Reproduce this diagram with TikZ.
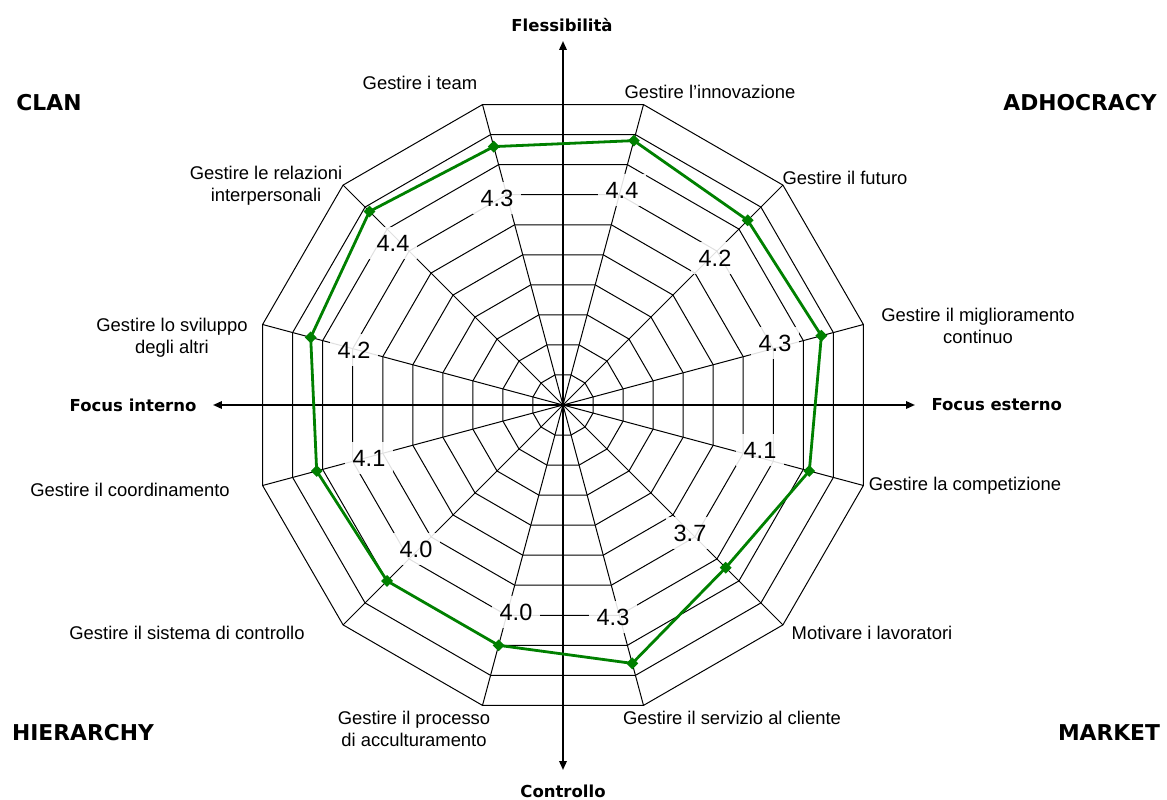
\documentclass[tikz,border=0pt]{standalone}
\usepackage{fontspec}
\setmainfont{Liberation Sans}
\newfontfamily\headfont{DejaVu Sans}
\usepackage{xcolor}
\usepackage{tikz}
\usetikzlibrary{arrows.meta}
\usetikzlibrary{shapes.geometric}
\definecolor{seriesgreen}{RGB}{0,128,0}

\begin{document}
\begin{tikzpicture}[x=1pt,y=1pt]
\tikzstyle{every node}=[font=\fontsize{18.4}{22}\selectfont]
\tikzstyle{grid}=[line width=1pt, black]
\tikzstyle{axis}=[line width=1.8pt, -{Triangle[length=9pt,width=7.5pt]}]
\tikzstyle{value}=[fill=white, fill opacity=0.88, text opacity=1, inner sep=8pt, font=\fontsize{23.5}{28}\selectfont]
\tikzstyle{point}=[diamond, fill=seriesgreen, inner sep=0pt, minimum size=12pt]
\tikzstyle{axislabel}=[font=\headfont\bfseries\fontsize{16.5}{20}\selectfont]
\tikzstyle{quadrant}=[font=\headfont\bfseries\fontsize{21.8}{26}\selectfont]
\tikzstyle{category}=[align=center]
\useasboundingbox (-563,-395) rectangle (604,405);
\coordinate (o) at (0,0);
% rings (scale 0 to 5, step 0.5)
\draw[grid] (15:31.1) -- (45:31.1) -- (75:31.1) -- (105:31.1) -- (135:31.1) -- (165:31.1) -- (195:31.1) -- (225:31.1) -- (255:31.1) -- (285:31.1) -- (315:31.1) -- (345:31.1) -- cycle;
\draw[grid] (15:62.2) -- (45:62.2) -- (75:62.2) -- (105:62.2) -- (135:62.2) -- (165:62.2) -- (195:62.2) -- (225:62.2) -- (255:62.2) -- (285:62.2) -- (315:62.2) -- (345:62.2) -- cycle;
\draw[grid] (15:93.3) -- (45:93.3) -- (75:93.3) -- (105:93.3) -- (135:93.3) -- (165:93.3) -- (195:93.3) -- (225:93.3) -- (255:93.3) -- (285:93.3) -- (315:93.3) -- (345:93.3) -- cycle;
\draw[grid] (15:124.4) -- (45:124.4) -- (75:124.4) -- (105:124.4) -- (135:124.4) -- (165:124.4) -- (195:124.4) -- (225:124.4) -- (255:124.4) -- (285:124.4) -- (315:124.4) -- (345:124.4) -- cycle;
\draw[grid] (15:155.5) -- (45:155.5) -- (75:155.5) -- (105:155.5) -- (135:155.5) -- (165:155.5) -- (195:155.5) -- (225:155.5) -- (255:155.5) -- (285:155.5) -- (315:155.5) -- (345:155.5) -- cycle;
\draw[grid] (15:186.6) -- (45:186.6) -- (75:186.6) -- (105:186.6) -- (135:186.6) -- (165:186.6) -- (195:186.6) -- (225:186.6) -- (255:186.6) -- (285:186.6) -- (315:186.6) -- (345:186.6) -- cycle;
\draw[grid] (15:217.7) -- (45:217.7) -- (75:217.7) -- (105:217.7) -- (135:217.7) -- (165:217.7) -- (195:217.7) -- (225:217.7) -- (255:217.7) -- (285:217.7) -- (315:217.7) -- (345:217.7) -- cycle;
\draw[grid] (15:248.8) -- (45:248.8) -- (75:248.8) -- (105:248.8) -- (135:248.8) -- (165:248.8) -- (195:248.8) -- (225:248.8) -- (255:248.8) -- (285:248.8) -- (315:248.8) -- (345:248.8) -- cycle;
\draw[grid] (15:279.9) -- (45:279.9) -- (75:279.9) -- (105:279.9) -- (135:279.9) -- (165:279.9) -- (195:279.9) -- (225:279.9) -- (255:279.9) -- (285:279.9) -- (315:279.9) -- (345:279.9) -- cycle;
\coordinate (innovazione) at (75:311);
\coordinate (futuro) at (45:311);
\coordinate (miglioramento) at (15:311);
\coordinate (competizione) at (-15:311);
\coordinate (motivare) at (-45:311);
\coordinate (servizio) at (-75:311);
\coordinate (processo) at (-105:311);
\coordinate (sistema) at (-135:311);
\coordinate (coordinamento) at (-165:311);
\coordinate (sviluppo) at (165:311);
\coordinate (relazioni) at (135:311);
\coordinate (team) at (105:311);
\draw[grid] (innovazione) -- (futuro) -- (miglioramento) -- (competizione) -- (motivare) -- (servizio) -- (processo) -- (sistema) -- (coordinamento) -- (sviluppo) -- (relazioni) -- (team) -- cycle;
% spokes
\draw[grid] (o) -- (innovazione);
\draw[grid] (o) -- (futuro);
\draw[grid] (o) -- (miglioramento);
\draw[grid] (o) -- (competizione);
\draw[grid] (o) -- (motivare);
\draw[grid] (o) -- (servizio);
\draw[grid] (o) -- (processo);
\draw[grid] (o) -- (sistema);
\draw[grid] (o) -- (coordinamento);
\draw[grid] (o) -- (sviluppo);
\draw[grid] (o) -- (relazioni);
\draw[grid] (o) -- (team);
% axes
\coordinate (flextip) at (0,364);
\coordinate (ctrltip) at (0,-365);
\coordinate (inttip) at (-350,0);
\coordinate (exttip) at (352,0);
\draw[axis] (o) -- (flextip);
\draw[axis] (o) -- (ctrltip);
\draw[axis] (o) -- (inttip);
\draw[axis] (o) -- (exttip);
\node[axislabel] (flex) at (-1,380) {Flessibilità};
\node[axislabel] (ctrl) at (0,-386) {Controllo};
\node[axislabel, anchor=east] (int) at (-363,0) {Focus interno};
\node[axislabel, anchor=west] (ext) at (365,0) {Focus esterno};
% quadrants
\node[quadrant] (clan) at (-514,302) {CLAN};
\node[quadrant] (adhocracy) at (517,302) {ADHOCRACY};
\node[quadrant] (hierarchy) at (-480,-328) {HIERARCHY};
\node[quadrant] (market) at (546,-328) {MARKET};
% categories
\node[category] (lteam) at (-143,322) {Gestire i team};
\node[category] (linnovazione) at (147,313) {Gestire l’innovazione};
\node[category] (lfuturo) at (282,227) {Gestire il futuro};
\node[category] (lmiglioramento) at (415,79) {Gestire il miglioramento\\continuo};
\node[category] (lcompetizione) at (402,-81) {Gestire la competizione};
\node[category] (lmotivare) at (309,-228) {Motivare i lavoratori};
\node[category] (lservizio) at (169,-313) {Gestire il servizio al cliente};
\node[category] (lprocesso) at (-149,-324) {Gestire il processo\\di acculturamento};
\node[category] (lsistema) at (-376,-228) {Gestire il sistema di controllo};
\node[category] (lcoordinamento) at (-433,-85) {Gestire il coordinamento};
\node[category] (lsviluppo) at (-391,67) {Gestire lo sviluppo\\degli altri};
\node[category] (lrelazioni) at (-297,219) {Gestire le relazioni\\interpersonali};
% values
\node[value] (vteam) at (-66,207) {4.3};
\node[value] (vinnovazione) at (59,215) {4.4};
\node[value] (vfuturo) at (152,147) {4.2};
\node[value] (vmiglioramento) at (212,62) {4.3};
\node[value] (vcompetizione) at (197,-45) {4.1};
\node[value] (vmotivare) at (127,-128) {3.7};
\node[value] (vservizio) at (50,-212) {4.3};
\node[value] (vprocesso) at (-47,-207) {4.0};
\node[value] (vsistema) at (-147,-144) {4.0};
\node[value] (vcoordinamento) at (-194,-53) {4.1};
\node[value] (vsviluppo) at (-209,55) {4.2};
\node[value] (vrelazioni) at (-170,162) {4.4};
% data series
\node[point] (dinnovazione) at (75:273.7) {};
\node[point] (dfuturo) at (45:261.2) {};
\node[point] (dmiglioramento) at (15:267.5) {};
\node[point] (dcompetizione) at (-15:255) {};
\node[point] (dmotivare) at (-45:230.1) {};
\node[point] (dservizio) at (-75:267.5) {};
\node[point] (dprocesso) at (-105:248.8) {};
\node[point] (dsistema) at (-135:248.8) {};
\node[point] (dcoordinamento) at (-165:255) {};
\node[point] (dsviluppo) at (165:261.2) {};
\node[point] (drelazioni) at (135:273.7) {};
\node[point] (dteam) at (105:267.5) {};
\draw[seriesgreen, line width=2.8pt, line join=round] (dinnovazione.center) -- (dfuturo.center) -- (dmiglioramento.center) -- (dcompetizione.center) -- (dmotivare.center) -- (dservizio.center) -- (dprocesso.center) -- (dsistema.center) -- (dcoordinamento.center) -- (dsviluppo.center) -- (drelazioni.center) -- (dteam.center) -- cycle;
\end{tikzpicture}
\end{document}
